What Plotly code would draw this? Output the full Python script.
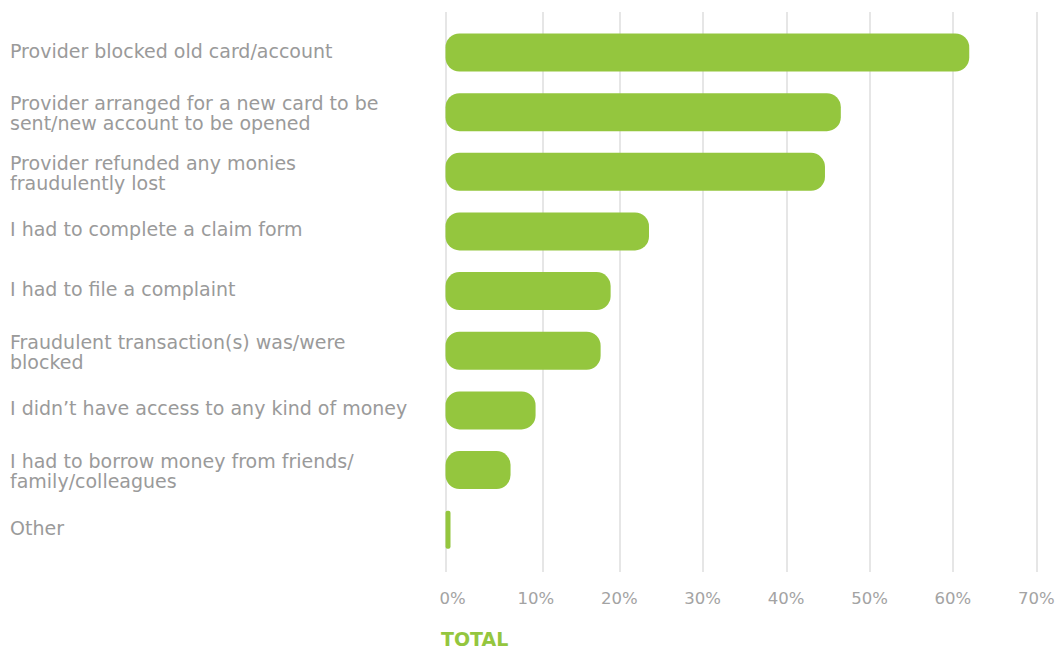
import plotly.graph_objects as go

# Survey responses: what happened after the fraud was reported (share of respondents, %)
categories = [
    "Provider blocked old card/account",
    "Provider arranged for a new card to be<br>sent/new account to be opened",
    "Provider refunded any monies<br>fraudulently lost",
    "I had to complete a claim form",
    "I had to file a complaint",
    "Fraudulent transaction(s) was/were<br>blocked",
    "I didn\u2019t have access to any kind of money",
    "I had to borrow money from friends/<br>family/colleagues",
    "Other",
]
values = [62.8, 47.4, 45.5, 24.4, 19.8, 18.6, 10.8, 7.8, 0.6]
tick_values = [0, 10, 20, 30, 40, 50, 60, 70]
tick_labels = ["0%", "10%", "20%", "30%", "40%", "50%", "60%", "70%"]

GREEN = "#94c63e"
LABEL_GREY = "#9a9a9a"
TICK_GREY = "#a3a3a3"
GRID_GREY = "#e6e6e6"
FONT = "DejaVu Sans"

W, H = 1058, 651
M_L, M_R, M_T, M_B = 440, 0, 12, 79
plot_w = W - M_L - M_R
px_per_pct = 8.34

# bar scale: zero sits on the first grid line
bar_range = [-5.5 / px_per_pct, -5.5 / px_per_pct + plot_w / px_per_pct]
# label scale: percentage labels are set slightly to the right of the bars' zero
label_range = [-12.5 / px_per_pct, -12.5 / px_per_pct + plot_w / px_per_pct]
# vertical grid lines (in bar units)
grid_at = [0, 11.7, 20.9, 30.9, 40.9, 50.9, 60.9, 70.9]

ypos = list(range(len(categories)))

fig = go.Figure()
# an explicit base makes plotly round both ends of each bar
fig.add_trace(go.Bar(
    y=ypos, x=values, base=[0] * len(values),
    orientation="h", width=0.637,
    marker=dict(color=GREEN, cornerradius=14, line=dict(width=0)),
    hoverinfo="skip", showlegend=False,
))
# invisible trace that carries the percentage axis
fig.add_trace(go.Scatter(
    x=[tick_values[0], tick_values[-1]], y=[0, 0], xaxis="x2",
    mode="markers", marker=dict(opacity=0), hoverinfo="skip", showlegend=False,
))

fig.update_layout(
    width=W, height=H,
    margin=dict(l=M_L, r=M_R, t=M_T, b=M_B),
    paper_bgcolor="white", plot_bgcolor="white",
    font=dict(family=FONT, color=LABEL_GREY),
    xaxis=dict(
        range=bar_range, tickmode="array", tickvals=grid_at,
        showticklabels=False, showgrid=True, gridcolor=GRID_GREY, gridwidth=2,
        zeroline=False, showline=False, ticks="", fixedrange=True,
    ),
    xaxis2=dict(
        range=label_range, overlaying="x", side="bottom", anchor="y",
        tickmode="array", tickvals=tick_values, ticktext=tick_labels,
        showgrid=False, zeroline=False, showline=False, ticks="",
        tickfont=dict(family=FONT, size=16.5, color=TICK_GREY),
        ticklabelstandoff=14,
    ),
    yaxis=dict(
        range=[8.709, -0.679], showticklabels=False, showgrid=False,
        zeroline=False, showline=False, ticks="",
    ),
)

# left-aligned category labels, one annotation per text line for tight leading
x_label = (8 - M_L) / plot_w
line_gap = 10.2
for i, cat in enumerate(categories):
    lines = cat.split("<br>")
    n = len(lines)
    offset = 2 if n == 1 else -1
    for j, line in enumerate(lines):
        shift = ((n - 1) / 2 - j) * 2 * line_gap + offset
        fig.add_annotation(
            x=x_label, xref="paper", y=i, yref="y",
            text=line, showarrow=False, xanchor="left", yanchor="middle",
            align="left", yshift=shift,
            font=dict(family=FONT, size=19, color=LABEL_GREY),
        )

fig.add_annotation(
    x=(439 - M_L) / plot_w, xref="paper", y=(H - M_B - 639) / (H - M_T - M_B), yref="paper",
    text="<b>TOTAL</b>", showarrow=False, xanchor="left", yanchor="middle",
    font=dict(family=FONT, size=19, color=GREEN),
)

fig.write_html("out.html")
